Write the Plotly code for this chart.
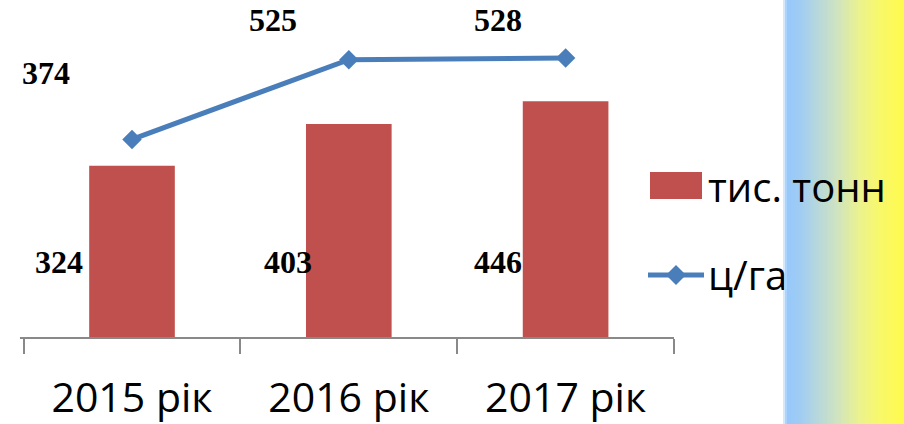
import plotly.graph_objects as go

# ---- data ----
categories = ["2015 рік", "2016 рік", "2017 рік"]
tons = [324, 403, 446]          # тис. тонн
yield_cha = [374, 525, 528]     # ц/га
series_names = ["тис. тонн", "ц/га"]

# ---- styling ----
BAR_COLOR = "#c0504d"
LINE_COLOR = "#4a7ebb"
W, H = 904, 424
L, R, T, B = 20, 674, 20, 337

def px_x(px):
    return (px - L) / (R - L)

def px_y(py):
    return (B - py) / (B - T)

fig = go.Figure()
fig.add_trace(go.Bar(x=categories, y=tons, name=series_names[0],
                     marker=dict(color=BAR_COLOR, line=dict(width=0)),
                     showlegend=False))
fig.add_trace(go.Scatter(x=categories, y=yield_cha, name=series_names[1],
                         mode="lines+markers",
                         line=dict(color=LINE_COLOR, width=5),
                         marker=dict(symbol="diamond", size=15, color=LINE_COLOR),
                         showlegend=False))

label_font = dict(family="Liberation Serif", size=32, color="black", weight="bold")
bar_label_xshift = [-73, -61, -68]
line_label_shift = [(-86, 66), (-76, 40), (-68, 38)]
for i, c in enumerate(categories):
    fig.add_annotation(x=c, y=0, xref="x", yref="y", text=f"<b>{tons[i]}</b>",
                       showarrow=False, xshift=bar_label_xshift[i], yshift=75,
                       font=label_font)
    fig.add_annotation(x=c, y=yield_cha[i], xref="x", yref="y",
                       text=f"<b>{yield_cha[i]}</b>", showarrow=False,
                       xshift=line_label_shift[i][0], yshift=line_label_shift[i][1],
                       font=label_font)

shapes = []
# gradient stripe (blue -> yellow) on the right edge
stops = [(782, (255, 255, 255)), (787, (150, 200, 250)), (800, (160, 204, 242)),
         (835, (205, 226, 195)), (860, (236, 242, 140)), (880, (248, 248, 105)),
         (904, (255, 250, 75))]
def col_at(x):
    if x <= stops[0][0]:
        return "rgb(255,255,255)"
    for (x0, c0), (x1, c1) in zip(stops[:-1], stops[1:]):
        if x0 <= x <= x1:
            t = (x - x0) / (x1 - x0)
            return "rgb(%d,%d,%d)" % tuple(round(a + (b - a) * t) for a, b in zip(c0, c1))
    return "rgb(255,250,75)"
step = 2
for x in range(781, 906, step):
    shapes.append(dict(type="rect", xref="paper", yref="paper", layer="below",
                       x0=px_x(x), x1=px_x(x + step + 0.5), y0=px_y(H + 2), y1=px_y(-2),
                       fillcolor=col_at(x + step / 2), line=dict(width=0)))

# custom legend
shapes.append(dict(type="rect", xref="paper", yref="paper",
                   x0=px_x(650), x1=px_x(702), y0=px_y(199), y1=px_y(172),
                   fillcolor=BAR_COLOR, line=dict(width=0)))
shapes.append(dict(type="line", xref="paper", yref="paper",
                   x0=px_x(648), x1=px_x(704), y0=px_y(275), y1=px_y(275),
                   line=dict(color=LINE_COLOR, width=5)))
cx, cy, d = 676, 275, 10
shapes.append(dict(type="path", xref="paper", yref="paper",
                   path="M %f %f L %f %f L %f %f L %f %f Z" % (
                       px_x(cx - d), px_y(cy), px_x(cx), px_y(cy - d),
                       px_x(cx + d), px_y(cy), px_x(cx), px_y(cy + d)),
                   fillcolor=LINE_COLOR, line=dict(width=0)))

legend_font = dict(family="Open Sans", size=40, color="black")
fig.add_annotation(xref="paper", yref="paper", x=px_x(706), y=px_y(186),
                   xanchor="left", yanchor="middle", text=series_names[0],
                   showarrow=False, font=legend_font)
fig.add_annotation(xref="paper", yref="paper", x=px_x(706), y=px_y(274),
                   xanchor="left", yanchor="middle", text=series_names[1],
                   showarrow=False, font=legend_font)

fig.update_layout(
    width=W, height=H,
    margin=dict(l=L, r=W - R, t=T, b=H - B, autoexpand=False),
    paper_bgcolor="white", plot_bgcolor="rgba(0,0,0,0)",
    bargap=0.605,
    shapes=shapes,
    xaxis=dict(showline=True, linecolor="#898989", linewidth=1.5,
               ticks="outside", tickson="boundaries", ticklen=15,
               tickcolor="#898989", tickwidth=1.5, ticklabelstandoff=24,
               automargin=False,
               tickfont=dict(family="Open Sans", size=41, color="black"),
               showgrid=False, zeroline=False),
    yaxis=dict(range=[0, 600], visible=False, showgrid=False, zeroline=False,
               automargin=False),
)

fig.write_html("out.html", config={"displayModeBar": False},
               post_script="document.body.style.margin='0';document.body.style.overflow='hidden';")
